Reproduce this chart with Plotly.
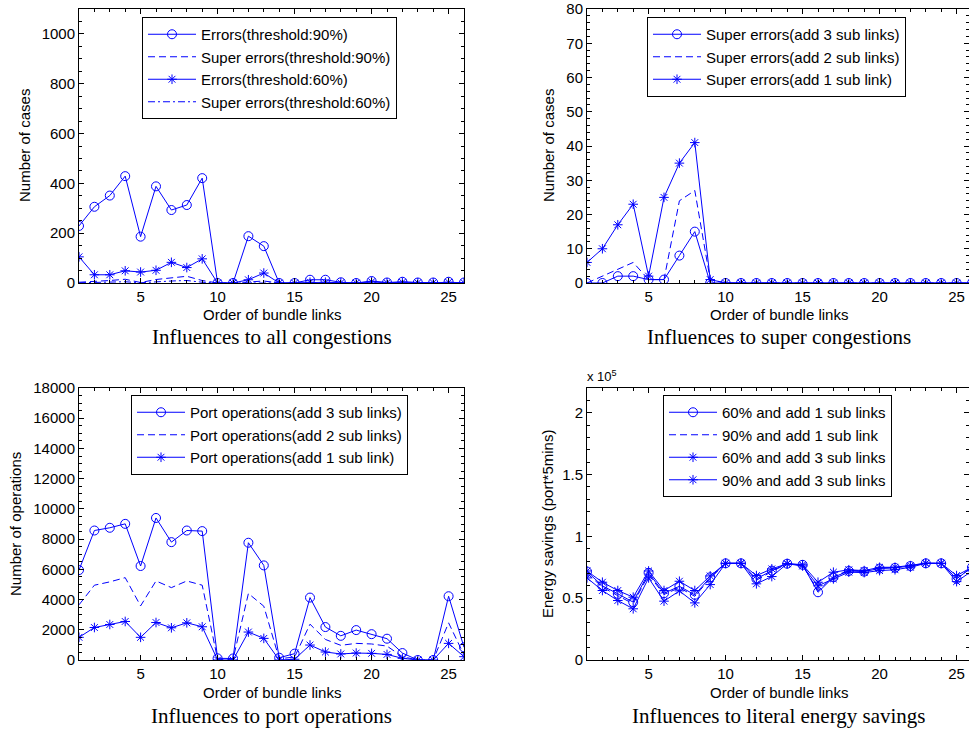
import plotly.graph_objects as go

W, H = 969, 731

x = list(range(1, 27))

# Panel 1: Influences to all congestions
errors_90 = [229, 306, 351, 429, 186, 388, 293, 313, 421, 0, 0, 188, 148, 0, 0, 13, 13, 3, 0, 8, 2, 5, 2, 2, 5, 2]
super_errors_90 = [3, 6, 10, 15, 2, 14, 20, 27, 10, 0, 0, 3, 8, 0, 0, 1, 1, 0, 0, 1, 0, 1, 0, 0, 1, 0]
errors_60 = [105, 33, 33, 49, 44, 51, 83, 62, 97, 0, 0, 13, 40, 0, 0, 3, 3, 1, 0, 5, 1, 3, 1, 1, 3, 1]
super_errors_60 = [1, 2, 3, 5, 1, 5, 8, 10, 3, 0, 0, 1, 3, 0, 0, 0, 0, 0, 0, 0, 0, 0, 0, 0, 0, 0]

# Panel 2: Influences to super congestions
super_add3 = [0, 0, 2, 2, 1, 1, 8, 15, 0, 0, 0, 0, 0, 0, 0, 0, 0, 0, 0, 0, 0, 0, 0, 0, 0, 0]
super_add2 = [0, 2, 4, 6, 1, 1, 24, 27, 1, 0, 0, 0, 0, 0, 0, 0, 0, 0, 0, 0, 0, 0, 0, 0, 0, 0]
super_add1 = [6, 10, 17, 23, 2, 25, 35, 41, 1, 0, 0, 0, 0, 0, 0, 0, 0, 0, 0, 0, 0, 0, 0, 0, 0, 0]

# Panel 3: Influences to port operations
ops_add3 = [5950, 8570, 8750, 9010, 6220, 9400, 7800, 8570, 8530, 110, 100, 7760, 6260, 150, 420, 4130, 2180, 1600, 1980, 1710, 1410, 460, 0, 0, 4220, 840]
ops_add2 = [3650, 4950, 5170, 5450, 3580, 5230, 4790, 5230, 4950, 50, 50, 4400, 3560, 80, 200, 2370, 1360, 970, 1100, 1060, 920, 220, 0, 0, 2460, 330]
ops_add1 = [1500, 2150, 2350, 2550, 1500, 2480, 2130, 2460, 2200, 0, 0, 1850, 1430, 0, 50, 990, 530, 400, 460, 440, 370, 110, 0, 0, 1100, 220]

# Panel 4: Influences to literal energy savings (x 10^5)
es_60_add1 = [0.715, 0.60, 0.535, 0.468, 0.705, 0.54, 0.596, 0.527, 0.669, 0.782, 0.782, 0.656, 0.723, 0.779, 0.77, 0.548, 0.669, 0.72, 0.715, 0.74, 0.745, 0.76, 0.782, 0.782, 0.656, 0.75]
es_90_add1 = [0.70, 0.59, 0.52, 0.455, 0.69, 0.53, 0.585, 0.515, 0.66, 0.782, 0.782, 0.645, 0.715, 0.779, 0.765, 0.56, 0.675, 0.725, 0.72, 0.745, 0.748, 0.762, 0.782, 0.782, 0.66, 0.75]
es_60_add3 = [0.72, 0.629, 0.562, 0.508, 0.72, 0.562, 0.637, 0.562, 0.68, 0.782, 0.782, 0.683, 0.737, 0.779, 0.77, 0.629, 0.71, 0.73, 0.723, 0.75, 0.75, 0.763, 0.782, 0.782, 0.683, 0.75]
es_90_add3 = [0.664, 0.562, 0.481, 0.414, 0.664, 0.476, 0.559, 0.462, 0.61, 0.782, 0.782, 0.616, 0.675, 0.779, 0.76, 0.60, 0.656, 0.71, 0.707, 0.723, 0.73, 0.75, 0.782, 0.782, 0.634, 0.72]

BLUE = "rgb(0,0,255)"
SANS = "Liberation Sans, Arial, sans-serif"
SERIF = "Liberation Serif, Times New Roman, serif"

def px_x(p):
    return p / W

def px_y(p):
    return 1 - p / H

fig = go.Figure()

def add(xa, ya, yv, name, legend, dash="solid", symbol=None):
    mode = "lines+markers" if symbol else "lines"
    kw = {}
    if symbol:
        kw["marker"] = dict(symbol=symbol, size=9 if symbol == "circle-open" else 8,
                            color=BLUE, line=dict(color=BLUE, width=1))
    fig.add_trace(go.Scatter(x=x, y=yv, name=name, mode=mode, xaxis=xa, yaxis=ya,
                             legend=legend, line=dict(color=BLUE, width=1, dash=dash), **kw))

DASH = "7px,4px"
DASHDOT = "7px,3px,2px,3px"

add("x", "y", errors_90, "Errors(threshold:90%)", "legend", symbol="circle-open")
add("x", "y", super_errors_90, "Super errors(threshold:90%)", "legend", dash=DASH)
add("x", "y", errors_60, "Errors(threshold:60%)", "legend", symbol="asterisk-open")
add("x", "y", super_errors_60, "Super errors(threshold:60%)", "legend", dash=DASHDOT)

add("x2", "y2", super_add3, "Super errors(add 3 sub links)", "legend2", symbol="circle-open")
add("x2", "y2", super_add2, "Super errors(add 2 sub links)", "legend2", dash=DASH)
add("x2", "y2", super_add1, "Super errors(add 1 sub link)", "legend2", symbol="asterisk-open")

add("x3", "y3", ops_add3, "Port operations(add 3 sub links)", "legend3", symbol="circle-open")
add("x3", "y3", ops_add2, "Port operations(add 2 sub links)", "legend3", dash=DASH)
add("x3", "y3", ops_add1, "Port operations(add 1 sub link)", "legend3", symbol="asterisk-open")

add("x4", "y4", es_60_add1, "60% and add 1 sub links", "legend4", symbol="circle-open")
add("x4", "y4", es_90_add1, "90% and add 1 sub link", "legend4", dash=DASH)
add("x4", "y4", es_60_add3, "60% and add 3 sub links", "legend4", symbol="asterisk-open")
add("x4", "y4", es_90_add3, "90% and add 3 sub links", "legend4", symbol="asterisk-open")

# Geometry (pixels)
LX = (79, 464)
RX = (587, 969)
TY = (9, 283)
BY = (388, 660)

def xdom(a):
    return [px_x(a[0]), px_x(a[1])]

def ydom(a):
    return [px_y(a[1]), px_y(a[0])]

axis_common = dict(showline=True, linecolor="black", linewidth=1, mirror="ticks",
                   ticks="inside", ticklen=5, tickcolor="black", showgrid=False,
                   zeroline=False, automargin=False,
                   tickfont=dict(family=SANS, size=15, color="black"))

def xaxis(dom, anchor, rng):
    return dict(domain=xdom(dom), anchor=anchor, range=rng, tick0=0, dtick=5,
                minor=dict(ticks="inside", ticklen=3, dtick=1, tick0=0, tickcolor="black"),
                **axis_common)

def yaxis(dom, anchor, rng, dtick, mdtick, fmt=None):
    d = dict(domain=ydom(dom), anchor=anchor, range=rng, tick0=0, dtick=dtick,
             minor=dict(ticks="inside", ticklen=3, dtick=mdtick, tick0=0, tickcolor="black"),
             **axis_common)
    if fmt:
        d["tickformat"] = fmt
    return d

right_max = 1 + (RX[1] - RX[0]) / ((464 - 79) / 25)

legend_common = dict(bgcolor="white", bordercolor="black", borderwidth=1,
                     font=dict(family=SANS, size=15, color="black"),
                     xanchor="left", yanchor="top", tracegroupgap=0, itemwidth=48)

fig.update_layout(
    width=W, height=H, margin=dict(l=0, r=0, t=0, b=0, autoexpand=False),
    paper_bgcolor="white", plot_bgcolor="white",
    xaxis=xaxis(LX, "y", [1, 26]),
    yaxis=yaxis(TY, "x", [0, 1100], 200, 50),
    xaxis2=xaxis(RX, "y2", [1, right_max]),
    yaxis2=yaxis(TY, "x2", [0, 80], 10, 2),
    xaxis3=xaxis(LX, "y3", [1, 26]),
    yaxis3=yaxis(BY, "x3", [0, 18000], 2000, 500, fmt="d"),
    xaxis4=xaxis(RX, "y4", [1, right_max]),
    yaxis4=yaxis(BY, "x4", [0, 2.2], 0.5, 0.1),
    legend=dict(x=px_x(142), y=px_y(17), **legend_common),
    legend2=dict(x=px_x(647), y=px_y(17), **legend_common),
    legend3=dict(x=px_x(131), y=px_y(395), **legend_common),
    legend4=dict(x=px_x(663), y=px_y(395), **legend_common),
    showlegend=True,
)

def ann(text, xp, yp, size=15, family=SANS, angle=0, xanchor="center"):
    fig.add_annotation(text=text, x=px_x(xp), y=px_y(yp), xref="paper", yref="paper",
                       showarrow=False, textangle=angle, xanchor=xanchor, yanchor="middle",
                       font=dict(family=family, size=size, color="black"))

# y-axis titles
ann("Number of cases", 25, 146, angle=-90)
ann("Number of cases", 549, 146, angle=-90)
ann("Number of operations", 15, 524, angle=-90)
ann("Energy savings (port*5mins)", 547, 524, angle=-90)
# x-axis titles
ann("Order of bundle links", 271.5, 314)
ann("Order of bundle links", 778.5, 314)
ann("Order of bundle links", 271.5, 692)
ann("Order of bundle links", 778.5, 692)
# panel captions
ann("Influences to all congestions", 271.5, 337, size=21, family=SERIF)
ann("Influences to super congestions", 778.5, 337, size=21, family=SERIF)
ann("Influences to port operations", 271.5, 716, size=21, family=SERIF)
ann("Influences to literal energy savings", 778.5, 716, size=21, family=SERIF)
# exponent label
ann("x 10<sup>5</sup>", 585, 376, size=13, xanchor="left")

fig.write_html("out.html", config={"displayModeBar": False},
               post_script="document.body.style.margin='0';")
